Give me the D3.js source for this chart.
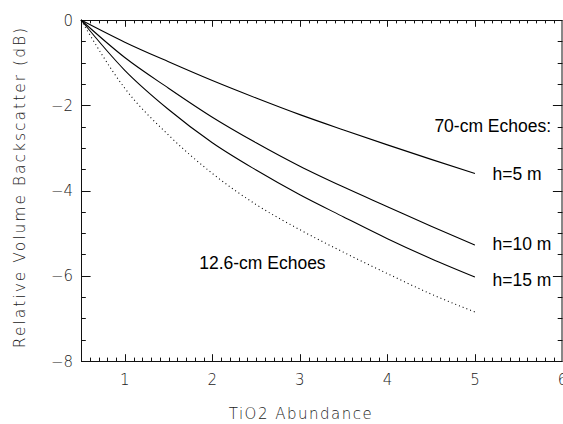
<!DOCTYPE html>
<html>
<head>
<meta charset="utf-8">
<script src="https://cdn.jsdelivr.net/npm/d3@7"></script>
<style>
  body { margin: 0; background: #fff; }
  .tick-label, .axis-title { font-family: "DejaVu Sans", sans-serif; font-weight: 200; fill: #222; }
  .note { font-family: "Liberation Sans", Arial, sans-serif; fill: #000; }
</style>
</head>
<body>
<svg id="chart"></svg>
<script>
// TiO2 abundance values where curves were read
var tio2 = [0.5, 1, 1.5, 2, 2.5, 3, 3.5, 4, 4.5, 5];

// relative volume backscatter (dB), 70-cm echoes for three depths
var h5 = [0, -0.52, -0.98, -1.42, -1.83, -2.22, -2.58, -2.93, -3.27, -3.6];
var h10 = [0, -0.88, -1.6, -2.28, -2.88, -3.43, -3.92, -4.38, -4.84, -5.28];
var h15 = [0, -1.18, -2.1, -2.88, -3.52, -4.1, -4.62, -5.13, -5.6, -6.03];
// 12.6-cm echoes (dotted)
var echo126 = [0, -1.6, -2.7, -3.6, -4.33, -4.92, -5.45, -5.95, -6.43, -6.85];

var xMajor = [1, 2, 3, 4, 5, 6];
var yMajor = [0, -2, -4, -6, -8];

var labels = [
  {text: "70-cm Echoes:", x: 5.87, y: -2.62, anchor: "end"},
  {text: "h=5 m", x: 5.2, y: -3.75, anchor: "start"},
  {text: "h=10 m", x: 5.2, y: -5.4, anchor: "start"},
  {text: "h=15 m", x: 5.2, y: -6.25, anchor: "start"},
  {text: "12.6-cm Echoes", x: 1.85, y: -5.85, anchor: "start"}
];

var width = 563, height = 424;
var margin = {top: 20, right: 0.5, bottom: 63, left: 81};

var svg = d3.select("#chart")
    .attr("width", width)
    .attr("height", height);

var x = d3.scaleLinear()
    .domain([0.5, 6])
    .range([margin.left, width - margin.right]);

var y = d3.scaleLinear()
    .domain([-8, 0])
    .range([height - margin.bottom, margin.top]);

var x0 = x.range()[0], x1 = x.range()[1];
var y0 = y.range()[0], y1 = y.range()[1];

// minor ticks
var xMinor = d3.range(6, 60).map(function(d) { return d / 10; });
var yMinor = d3.range(-16, 1).map(function(d) { return d / 2; });

var xLen = 6.8, yLen = 9.6;
var g = svg.append("g").attr("stroke", "#111").attr("stroke-width", 1).attr("fill", "none");

function isMajor(v) { return Math.abs(v - Math.round(v)) < 1e-6; }

// bottom + top ticks
xMinor.forEach(function(v) {
  var len = isMajor(v) ? xLen : xLen / 2;
  var px = Math.round(x(v)) + 0.5;
  g.append("line").attr("x1", px).attr("x2", px).attr("y1", y0).attr("y2", y0 - len);
  g.append("line").attr("x1", px).attr("x2", px).attr("y1", y1).attr("y2", y1 + len);
});
// left + right ticks
yMinor.forEach(function(v) {
  var len = (v % 2 === 0) ? yLen : yLen / 2;
  var py = Math.round(y(v)) + 0.5;
  g.append("line").attr("x1", x0).attr("x2", x0 + len).attr("y1", py).attr("y2", py);
  g.append("line").attr("x1", x1).attr("x2", x1 - len).attr("y1", py).attr("y2", py);
});

// frame
g.append("rect")
  .attr("x", x0 + 0.5).attr("y", y1 + 0.5)
  .attr("width", x1 - x0 - 1).attr("height", y0 - y1);

// tick labels
svg.selectAll(".xlab").data(xMajor).enter().append("text")
  .attr("class", "tick-label")
  .attr("x", function(d) { return x(d); })
  .attr("y", y0 + 24)
  .attr("text-anchor", "middle")
  .attr("font-size", 15)
  .text(function(d) { return d; });

svg.selectAll(".ylab").data(yMajor).enter().append("text")
  .attr("class", "tick-label")
  .attr("x", x0 - 8)
  .attr("y", function(d) { return y(d) + 5.5; })
  .attr("text-anchor", "end")
  .attr("font-size", 15)
  .text(function(d) { return d < 0 ? "\u2212" + Math.abs(d) : d; });

// axis titles
svg.append("text")
  .attr("class", "axis-title")
  .attr("x", 301)
  .attr("y", 419)
  .attr("text-anchor", "middle")
  .attr("font-size", 15)
  .attr("letter-spacing", 1.5)
  .text("TiO2 Abundance");

svg.append("text")
  .attr("class", "axis-title")
  .attr("transform", "translate(25,187) rotate(-90)")
  .attr("text-anchor", "middle")
  .attr("font-size", 15.5)
  .attr("letter-spacing", 2)
  .text("Relative Volume Backscatter (dB)");

// curves
var line = d3.line()
  .x(function(d) { return x(d[0]); })
  .y(function(d) { return y(d[1]); })
  .curve(d3.curveMonotoneX);

function pts(arr) { return tio2.map(function(t, i) { return [t, arr[i]]; }); }

[h5, h10, h15].forEach(function(s) {
  svg.append("path")
    .datum(pts(s))
    .attr("fill", "none")
    .attr("stroke", "#000")
    .attr("stroke-width", 1.1)
    .attr("d", line);
});

svg.append("path")
  .datum(pts(echo126))
  .attr("fill", "none")
  .attr("stroke", "#000")
  .attr("stroke-width", 1.1)
  .attr("stroke-dasharray", "1,3")
  .attr("d", line);

// annotations
svg.selectAll(".note").data(labels).enter().append("text")
  .attr("class", "note")
  .attr("x", function(d) { return x(d.x); })
  .attr("y", function(d) { return y(d.y); })
  .attr("text-anchor", function(d) { return d.anchor; })
  .attr("font-size", 17.5)
  .text(function(d) { return d.text; });
</script>
</body>
</html>
